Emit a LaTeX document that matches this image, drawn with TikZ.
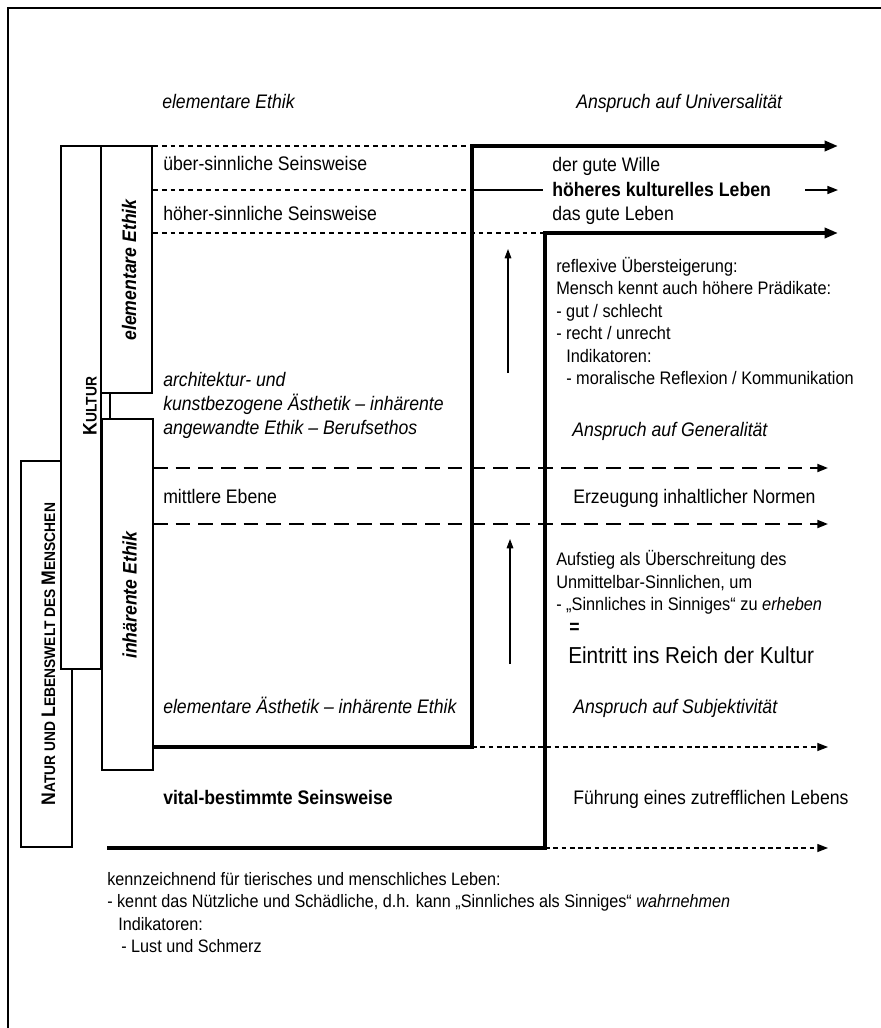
\documentclass[tikz,border=0pt]{standalone}
\usepackage{fontspec}
\setmainfont{Liberation Sans}[FakeStretch=0.9]
\usetikzlibrary{arrows.meta}
\newcommand\fsm{\fontsize{14.7}{17}\selectfont}
\newcommand\fsr{\fontsize{13.6}{16}\selectfont}
\newcommand\fsbot{\fontsize{13.5}{16}\selectfont}
\newcommand\fsl{\fontsize{17.3}{20}\selectfont}
\newcommand\fss{\fontsize{11.5}{13}\selectfont}
\begin{document}
\begin{tikzpicture}[x=0.75pt,y=-0.75pt,
 txt/.style={anchor=base west,inner sep=0pt,font=\fsm},
 rtxt/.style={anchor=base west,inner sep=0pt,font=\fsr},
 bot/.style={anchor=base west,inner sep=0pt,font=\fsbot},
 thickl/.style={line width=2.5pt,line join=miter},
 boxl/.style={line width=0.9pt,fill=white},
 fdash/.style={line width=0.8pt,dash pattern=on 3.6pt off 3pt},
 ldash/.style={line width=1.4pt,dash pattern=on 11pt off 6pt},
 sdash/.style={line width=0.9pt,dash pattern=on 3.6pt off 2.6pt},
 bigtip/.style={-{Triangle[length=10pt,width=7.5pt]}},
 tip/.style={-{Triangle[length=8pt,width=6pt]}},
 smalltip/.style={-{Triangle[length=7pt,width=5pt]}},
 rot/.style={anchor=base,inner sep=0pt,rotate=90,font=\fsm\bfseries\itshape},
 rotsc/.style={anchor=base,inner sep=0pt,rotate=90,font=\fsm\bfseries},
]
\useasboundingbox (0,0) rectangle (881,1028);
% frame
\coordinate (fTR) at (881,8);
\coordinate (fTL) at (8,8);
\coordinate (fBL) at (8,1028);
\draw[line width=0.9pt] (fTR) -- (fTL) -- (fBL);

% boxes
\draw[boxl] (21,461) rectangle (72,847);
\draw[boxl] (61,146) rectangle (101,669);
\draw[boxl] (101,146) rectangle (152,393);
\draw[boxl] (102,419) rectangle (153,770);
\coordinate (c1) at (110,393);
\coordinate (c2) at (110,419);
\draw[line width=0.9pt] (c1) -- (c2);

% fine dashed lines
\coordinate (d1a) at (153,146); \coordinate (d1b) at (472,146);
\coordinate (d2a) at (153,190); \coordinate (d2b) at (472,190); \coordinate (d2c) at (543,190);
\coordinate (d3a) at (153,233); \coordinate (d3b) at (545,233);
\draw[fdash] (d1a) -- (d1b);
\draw[fdash] (d2a) -- (d2b);
\draw[line width=0.8pt] (d2b) -- (d2c);
\draw[fdash] (d3a) -- (d3b);

% long dashed arrows
\coordinate (l1a) at (153,468); \coordinate (l1b) at (828,468);
\coordinate (l2a) at (153,524); \coordinate (l2b) at (828,524);
\draw[ldash,tip] (l1a) -- (l1b);
\draw[ldash,tip] (l2a) -- (l2b);

% short dashed arrows
\coordinate (s1a) at (472,747); \coordinate (s1b) at (828,747);
\coordinate (s2a) at (545,848); \coordinate (s2b) at (828,848);
\draw[sdash,tip] (s1a) -- (s1b);
\draw[sdash,tip] (s2a) -- (s2b);

% thick lines
\coordinate (t1a) at (153,747); \coordinate (t1b) at (472,747);
\coordinate (t1c) at (472,146); \coordinate (t1d) at (838,146);
\draw[thickl,bigtip] (t1a) -- (t1b) -- (t1c) -- (t1d);
\coordinate (t2a) at (107,848); \coordinate (t2b) at (545,848);
\coordinate (t2c) at (545,233); \coordinate (t2d) at (838,233);
\draw[thickl,bigtip] (t2a) -- (t2b) -- (t2c) -- (t2d);
\coordinate (h1) at (805,190); \coordinate (h2) at (838,190);
\draw[line width=1.2pt,tip] (h1) -- (h2);

% up arrows
\coordinate (u1a) at (508,373); \coordinate (u1b) at (508,249);
\coordinate (u2a) at (510,664); \coordinate (u2b) at (510,539);
\draw[line width=0.8pt,smalltip] (u1a) -- (u1b);
\draw[line width=0.8pt,smalltip] (u2a) -- (u2b);

% rotated labels
\node[rot] (elE) at (136,270) {elementare Ethik};
\node[rot] (inE) at (136.5,595) {inhärente Ethik};
\node[rotsc] (kult) at (96.5,406) {K{\fss ULTUR}};
\node[rotsc] (natur) at (55,654) {N{\fss ATUR UND }L{\fss EBENSWELT DES }M{\fss ENSCHEN}};

% top headings
\node[txt,font=\fsm\itshape] (h_el) at (162,108) {elementare Ethik};
\node[txt,font=\fsm\itshape] (h_un) at (576,108) {Anspruch auf Universalität};

% left column
\node[txt] (ueber) at (163,170) {über-sinnliche Seinsweise};
\node[txt] (hoeher) at (163,220) {höher-sinnliche Seinsweise};
\node[txt,font=\fsm\itshape] (arch1) at (163,386) {architektur- und};
\node[txt,font=\fsm\itshape] (arch2) at (163,410) {kunstbezogene Ästhetik – inhärente};
\node[txt,font=\fsm\itshape] (arch3) at (163,434) {angewandte Ethik – Berufsethos};
\node[txt] (mittl) at (163,503) {mittlere Ebene};
\node[txt,font=\fsm\itshape] (elAe) at (163,713) {elementare Ästhetik – inhärente Ethik};
\node[txt,font=\fsm\bfseries] (vital) at (163,804) {vital-bestimmte Seinsweise};

% right column
\node[txt] (wille) at (552,171) {der gute Wille};
\node[txt,font=\fsm\bfseries] (hkl) at (552,196) {höheres kulturelles Leben};
\node[txt] (gleben) at (552,220) {das gute Leben};
\node[rtxt] (r1) at (556,272) {reflexive Übersteigerung:};
\node[rtxt] (r2) at (556,294.5) {Mensch kennt auch höhere Prädikate:};
\node[rtxt] (r3) at (556,317) {- gut / schlecht};
\node[rtxt] (r4) at (556,339.5) {- recht / unrecht};
\node[rtxt] (r5) at (566,362) {Indikatoren:};
\node[rtxt] (r6) at (566,384.5) {- moralische Reflexion / Kommunikation};
\node[txt,font=\fsm\itshape] (gen) at (572,436) {Anspruch auf Generalität};
\node[txt] (erz) at (573,503) {Erzeugung inhaltlicher Normen};
\node[rtxt] (a1) at (556,565) {Aufstieg als Überschreitung des};
\node[rtxt] (a2) at (556,588) {Unmittelbar-Sinnlichen, um};
\node[rtxt] (a3) at (556,610) {- „Sinnliches in Sinniges“ zu \textit{erheben}};
\node[txt,font=\fsm\bfseries] (eq) at (569,633) {=};
\node[txt,font=\fsl] (eint) at (568,663) {Eintritt ins Reich der Kultur};
\node[txt,font=\fsm\itshape] (subj) at (573,713) {Anspruch auf Subjektivität};
\node[txt] (fuehr) at (573,804) {Führung eines zutrefflichen Lebens};

% bottom text
\node[bot] (b1) at (107,885) {kennzeichnend für tierisches und menschliches Leben:};
\node[bot] (b2) at (107,907.5) {- kennt das Nützliche und Schädliche, d.h. kann „Sinnliches als Sinniges“ \textit{wahrnehmen}};
\node[bot] (b3) at (118,930) {Indikatoren:};
\node[bot] (b4) at (121,952) {- Lust und Schmerz};
\end{tikzpicture}
\end{document}
